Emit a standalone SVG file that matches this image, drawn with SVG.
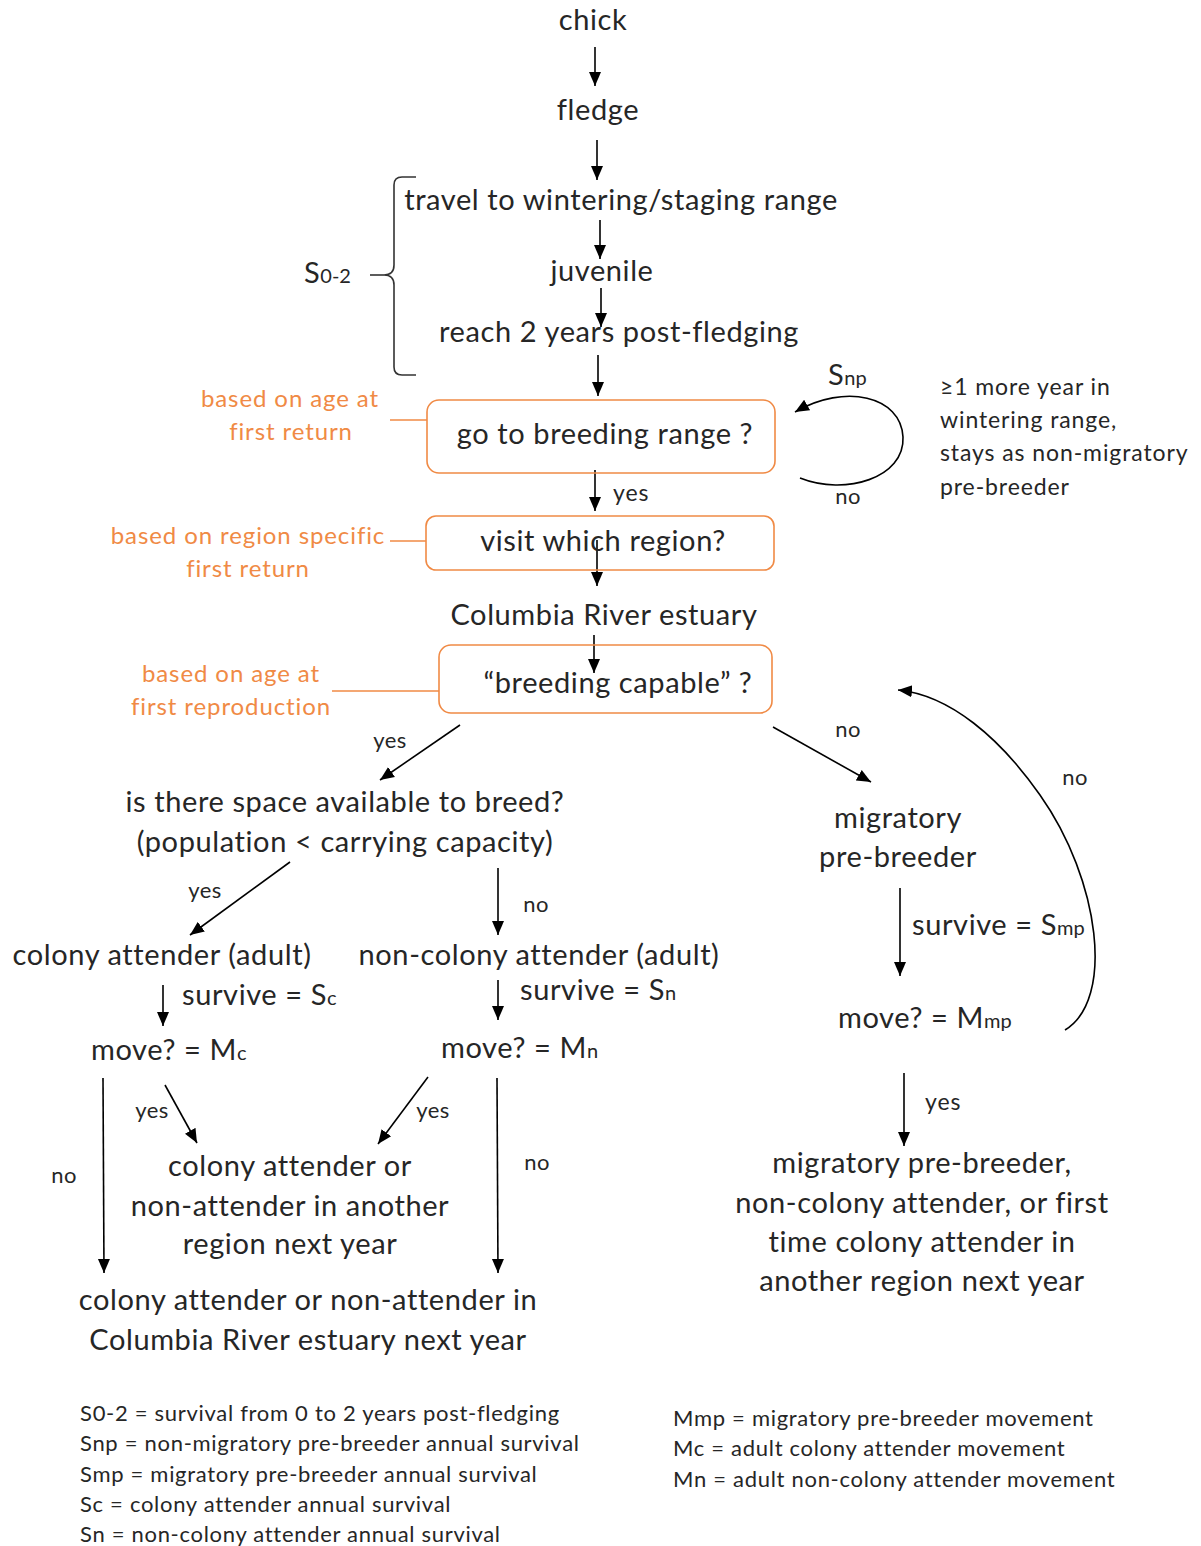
<svg xmlns="http://www.w3.org/2000/svg" width="1201" height="1546" viewBox="0 0 1201 1546">
<defs>
<marker id="ah" markerUnits="userSpaceOnUse" markerWidth="16" markerHeight="14" refX="14" refY="7" orient="auto">
<path d="M0,1 L14,7 L0,13 Z" fill="#000"/>
</marker>
<style>
text{font-family:Lato,"Open Sans","Liberation Sans",sans-serif;fill:#262626}
.m{font-size:29px;letter-spacing:0.6px;text-anchor:middle}
.ml{font-size:29px;letter-spacing:0.6px}
.s{font-size:23px;letter-spacing:0.9px}
.sm{font-size:22px;letter-spacing:0.5px;text-anchor:middle}
.o{font-size:24px;letter-spacing:0.9px;fill:#F08A45;text-anchor:middle}
.lg{font-size:22px;letter-spacing:0.7px}
.box{fill:none;stroke:#F08A45;stroke-width:1.6}
.ol{stroke:#F08A45;stroke-width:1.6;fill:none}
.c{stroke:#000;stroke-width:1.6;fill:none;marker-end:url(#ah)}
.br{stroke:#333;stroke-width:1.6;fill:none}
.sub{font-size:20px;letter-spacing:0}
</style>
</defs>
<rect width="1201" height="1546" fill="#fff"/>

<g id="connectors">
<line class="c" x1="595" y1="47" x2="595" y2="86"/>
<line class="c" x1="597" y1="140" x2="597" y2="180"/>
<line class="c" x1="600" y1="220" x2="600" y2="259"/>
<line class="c" x1="601" y1="288" x2="601" y2="327"/>
<line class="c" x1="598" y1="355" x2="598" y2="396"/>
<path class="c" d="M800,478 C845,496 905,478 903,437 C901,396 845,383 795,412"/>
<line class="c" x1="595" y1="470" x2="595" y2="511"/>
<line class="c" x1="597" y1="540" x2="597" y2="586"/>
<line class="c" x1="594" y1="635" x2="594" y2="673"/>
<line class="ol" x1="390" y1="420" x2="427" y2="420"/>
<line class="ol" x1="390" y1="541" x2="426" y2="541"/>
<line class="ol" x1="332" y1="691" x2="439" y2="691"/>
<line class="c" x1="460" y1="725" x2="380" y2="780"/>
<line class="c" x1="773" y1="727" x2="871" y2="782"/>
<path class="c" d="M1065,1030 C1115,1000 1100,880 1040,795 C1000,738 950,695 898,690"/>
<line class="c" x1="900" y1="888" x2="900" y2="976"/>
<line class="c" x1="904" y1="1073" x2="904" y2="1146"/>
<line class="c" x1="290" y1="862" x2="190" y2="935"/>
<line class="c" x1="498" y1="868" x2="498" y2="935"/>
<line class="c" x1="163" y1="985" x2="163" y2="1026"/>
<line class="c" x1="498" y1="980" x2="498" y2="1020"/>
<line class="c" x1="103" y1="1078" x2="104" y2="1273"/>
<line class="c" x1="165" y1="1085" x2="197" y2="1143"/>
<line class="c" x1="428" y1="1077" x2="378" y2="1144"/>
<line class="c" x1="497" y1="1078" x2="498" y2="1273"/>
</g>

<g id="brace">
<path class="br" d="M416,177 H402 Q394,177 394,185 V265 Q394,275 384,275 Q394,275 394,285 V367 Q394,375 402,375 H416"/>
<line class="br" x1="370" y1="275" x2="384" y2="275"/>
<text class="ml" x="304" y="283">S<tspan class="sub">0-2</tspan></text>
</g>

<g id="chick"><text class="m" x="593" y="30">chick</text></g>
<g id="fledge"><text class="m" x="598" y="120">fledge</text></g>
<g id="travel"><text class="m" x="621" y="210">travel to wintering/staging range</text></g>
<g id="juvenile"><text class="m" x="602" y="281">juvenile</text></g>
<g id="reach2"><text class="m" x="619" y="342">reach 2 years post-fledging</text></g>

<g id="goBreeding">
<rect class="box" x="427" y="400" width="348" height="73" rx="12"/>
<text class="m" x="605" y="444">go to breeding range ?</text>
</g>
<g id="note1">
<text class="o" x="290" y="407">based on age at</text>
<text class="o" x="291" y="440">first return</text>
</g>
<g id="loopLabels">
<text class="ml" x="828" y="385">S<tspan class="sub">np</tspan></text>
<text class="sm" x="848" y="504">no</text>
</g>
<g id="stayNote">
<text class="s" x="940" y="395">≥1 more year in</text>
<text class="s" x="940" y="428">wintering range,</text>
<text class="s" x="940" y="461">stays as non-migratory</text>
<text class="s" x="940" y="495">pre-breeder</text>
</g>
<g id="yes1"><text class="s" x="613" y="501">yes</text></g>

<g id="visitRegion">
<rect class="box" x="426" y="516" width="348" height="54" rx="10"/>
<text class="m" x="603" y="551">visit which region?</text>
</g>
<g id="note2">
<text class="o" x="248" y="544">based on region specific</text>
<text class="o" x="248" y="577">first return</text>
</g>
<g id="columbia"><text class="m" x="604" y="625">Columbia River estuary</text></g>

<g id="breedingCapable">
<rect class="box" x="439" y="645" width="333" height="68" rx="12"/>
<text class="m" x="618" y="693">“breeding capable” ?</text>
</g>
<g id="note3">
<text class="o" x="231" y="682">based on age at</text>
<text class="o" x="231" y="715">first reproduction</text>
</g>
<g id="bcLabels">
<text class="sm" x="390" y="748">yes</text>
<text class="sm" x="848" y="737">no</text>
</g>

<g id="space">
<text class="m" x="345" y="812">is there space available to breed?</text>
<text class="m" x="345" y="852">(population &lt; carrying capacity)</text>
</g>
<g id="migratory">
<text class="m" x="898" y="828">migratory</text>
<text class="m" x="898" y="867">pre-breeder</text>
</g>
<g id="loopNo"><text class="sm" x="1075" y="785">no</text></g>
<g id="smp"><text class="ml" x="912" y="935">survive = S<tspan class="sub">mp</tspan></text></g>
<g id="moveMmp"><text class="ml" x="838" y="1028">move? = M<tspan class="sub">mp</tspan></text></g>
<g id="yesMp"><text class="s" x="925" y="1110">yes</text></g>
<g id="otherRegionMp">
<text class="m" x="922" y="1173">migratory pre-breeder,</text>
<text class="m" x="922" y="1213">non-colony attender, or first</text>
<text class="m" x="922" y="1252">time colony attender in</text>
<text class="m" x="922" y="1291">another region next year</text>
</g>

<g id="spaceLabels">
<text class="sm" x="205" y="898">yes</text>
<text class="sm" x="536" y="912">no</text>
</g>
<g id="colonyAdult"><text class="m" x="162" y="965">colony attender (adult)</text></g>
<g id="nonColonyAdult"><text class="m" x="539" y="965">non-colony attender (adult)</text></g>
<g id="sc"><text class="ml" x="182" y="1005">survive = S<tspan class="sub">c</tspan></text></g>
<g id="sn"><text class="ml" x="520" y="1000">survive = S<tspan class="sub">n</tspan></text></g>
<g id="moveMc"><text class="ml" x="91" y="1060">move? = M<tspan class="sub">c</tspan></text></g>
<g id="moveMn"><text class="ml" x="441" y="1058">move? = M<tspan class="sub">n</tspan></text></g>
<g id="moveLabels">
<text class="sm" x="64" y="1183">no</text>
<text class="sm" x="152" y="1118">yes</text>
<text class="sm" x="433" y="1118">yes</text>
<text class="sm" x="537" y="1170">no</text>
</g>
<g id="anotherRegion">
<text class="m" x="290" y="1176">colony attender or</text>
<text class="m" x="290" y="1216">non-attender in another</text>
<text class="m" x="290" y="1254">region next year</text>
</g>
<g id="columbiaNext">
<text class="m" x="308" y="1310">colony attender or non-attender in</text>
<text class="m" x="308" y="1350">Columbia River estuary next year</text>
</g>

<g id="legendLeft">
<text class="lg" x="80" y="1421">S0-2 = survival from 0 to 2 years post-fledging</text>
<text class="lg" x="80" y="1451">Snp = non-migratory pre-breeder annual survival</text>
<text class="lg" x="80" y="1482">Smp = migratory pre-breeder annual survival</text>
<text class="lg" x="80" y="1512">Sc = colony attender annual survival</text>
<text class="lg" x="80" y="1542">Sn = non-colony attender annual survival</text>
</g>
<g id="legendRight">
<text class="lg" x="673" y="1426">Mmp = migratory pre-breeder movement</text>
<text class="lg" x="673" y="1456">Mc = adult colony attender movement</text>
<text class="lg" x="673" y="1487">Mn = adult non-colony attender movement</text>
</g>
</svg>
